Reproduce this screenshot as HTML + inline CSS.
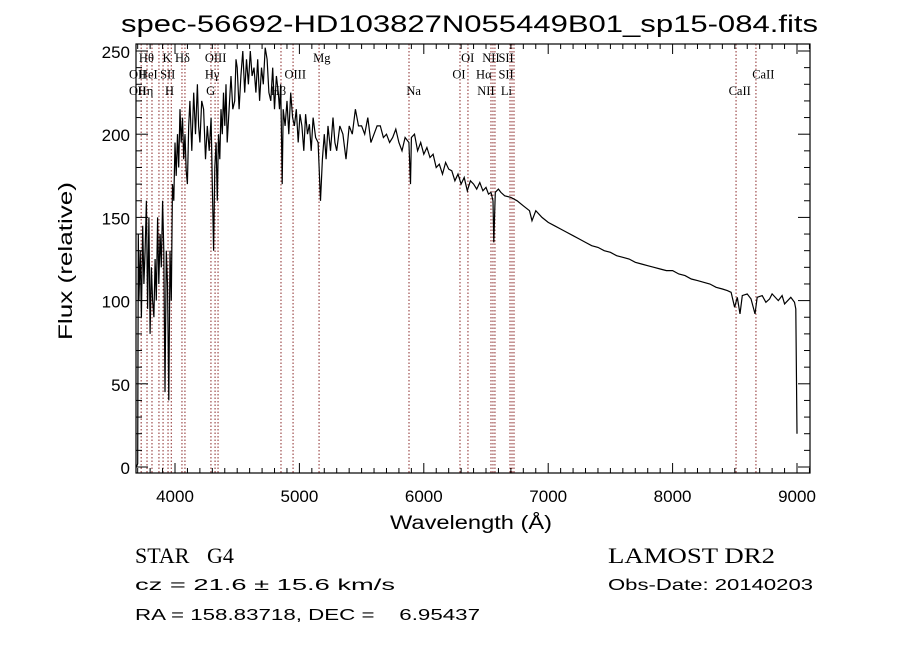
<!DOCTYPE html>
<html><head><meta charset="utf-8"><style>
html,body{margin:0;padding:0;background:#fff;}
svg{display:block;}
.t{font-family:"Liberation Sans",sans-serif;fill:#000;}
.s{font-family:"Liberation Serif",serif;fill:#000;font-size:12.5px;}
</style></head><body>
<svg id="chart" width="900" height="649" viewBox="0 0 900 649" xmlns="http://www.w3.org/2000/svg">
<text class="t" x="121" y="32" font-size="24" textLength="697" lengthAdjust="spacingAndGlyphs">spec-56692-HD103827N055449B01_sp15-084.fits</text>
<g id="lines"></g>
<g id="ticks"></g>
<path id="spec" fill="none" stroke="#000" stroke-width="1.2"/>
<rect x="136" y="44" width="674" height="429" fill="none" stroke="#000" stroke-width="1.2"/>
<text class="t" x="390" y="529" font-size="19" textLength="162" lengthAdjust="spacingAndGlyphs">Wavelength (Å)</text>
<text class="t" transform="translate(72,340) rotate(-90)" font-size="19" textLength="158" lengthAdjust="spacingAndGlyphs">Flux (relative)</text>
<text class="s" x="135" y="563" style="font-size:22px">STAR</text>
<text class="s" x="207" y="563" style="font-size:22px">G4</text>
<text class="s" x="608" y="563" style="font-size:22px" textLength="167" lengthAdjust="spacingAndGlyphs">LAMOST DR2</text>
<text class="t" x="135" y="590" font-size="16" textLength="260" lengthAdjust="spacingAndGlyphs">cz = 21.6 ± 15.6 km/s</text>
<text class="t" x="608" y="590" font-size="16" textLength="205" lengthAdjust="spacingAndGlyphs">Obs-Date: 20140203</text>
<text class="t" x="135" y="620" font-size="16" textLength="345" lengthAdjust="spacingAndGlyphs" xml:space="preserve">RA = 158.83718, DEC =    6.95437</text>
</svg>
<script>
const spectrum=[
[3690,0],[3700,2],[3705,140],[3710,100],[3720,130],[3730,90],[3740,145],[3750,110],[3760,130],[3770,160],[3780,95],[3790,150],[3800,80],[3810,120],[3820,100],[3830,90],[3840,125],[3850,100],[3860,150],[3870,110],[3880,140],[3890,120],[3900,160],[3910,130],[3920,45],[3930,130],[3940,110],[3950,40],[3960,130],[3970,100],[3980,170],[3990,160],
[4000,195],[4010,175],[4020,200],[4030,180],[4040,215],[4050,195],[4060,210],[4070,185],[4080,200],[4090,178],[4100,170],[4110,205],[4120,220],[4135,190],[4150,225],[4165,200],[4180,230],[4190,205],[4200,195],[4215,220],[4230,215],[4245,185],[4260,205],[4275,190],[4290,210],[4300,170],[4310,130],[4320,180],[4330,195],[4340,160],[4350,200],[4360,185],[4370,215],[4380,200],[4390,225],[4400,205],[4410,230],[4420,195],[4435,215],[4450,235],[4465,215],[4480,220],[4490,245],[4500,240],[4515,215],[4530,235],[4545,250],[4560,225],[4575,245],[4590,230],[4605,250],[4620,235],[4635,240],[4650,225],[4665,245],[4680,220],[4695,240],[4710,230],[4725,252],[4740,245],[4755,225],[4770,220],[4785,240],[4800,215],[4815,235],[4830,225],[4840,215],[4850,230],[4862,170],[4870,215],[4885,205],[4900,220],[4915,200],[4930,225],[4945,210],[4960,205],[4975,215],[4990,195],
[5005,212],[5020,205],[5035,190],[5050,212],[5065,200],[5080,206],[5095,190],[5110,210],[5130,198],[5150,195],[5170,160],[5185,185],[5200,200],[5215,185],[5230,205],[5250,190],[5270,210],[5285,195],[5300,190],[5325,205],[5350,200],[5375,185],[5400,205],[5425,200],[5450,215],[5475,205],[5500,205],[5525,200],[5550,210],[5575,195],[5600,200],[5625,205],[5650,205],[5675,198],[5700,200],[5725,195],[5750,198],[5775,203],[5800,195],[5825,190],[5850,198],[5880,195],[5893,170],[5900,198],[5925,200],[5950,190],[5975,195],
[6000,188],[6025,192],[6050,186],[6075,188],[6100,180],[6125,182],[6150,176],[6175,183],[6200,179],[6225,178],[6250,172],[6275,176],[6300,170],[6325,174],[6350,166],[6375,172],[6400,170],[6425,167],[6450,171],[6475,166],[6500,168],[6520,164],[6540,165],[6556,160],[6563,135],[6575,165],[6600,167],[6620,165],[6650,163],[6700,162],[6750,160],[6800,157],[6850,154],[6870,148],[6900,154],[6950,150],
[7000,147],[7050,145],[7100,143],[7150,141],[7200,139],[7250,137],[7300,135],[7350,133],[7400,132],[7450,130],[7500,129],[7550,127],[7600,126],[7650,125],[7700,123],[7750,122],[7800,121],[7850,120],[7900,119],[7950,118],[8000,118],[8050,116],[8100,115],[8150,113],[8200,112],[8250,111],[8300,110],[8350,108],[8400,107],[8440,106],[8470,105],[8498,96],[8520,102],[8542,92],[8560,103],[8600,104],[8630,101],[8662,92],[8680,102],[8720,103],[8750,99],[8780,101],[8800,104],[8850,100],[8880,103],[8900,98],[8950,102],[8980,99],[8990,95],[9000,20]];
const lineWave=[3728,3775,3815,3871,3904,3944,3970,4056,4080,4289,4322,4346,4852,4949,5158,5881,6291,6355,6540,6556,6572,6693,6709,6725,8510,8670];
const labelText=["Hθ","K","Hδ","OIII","Mg","OI","NII","SII","OII","HeI","SII","Hγ","OIII","OI","Hα","SII","CaII","OII","Hη","H","G","Hβ","Na","NII","Li","CaII"];
const labelWave=[3710,3900,4000,4240,5110,6300,6470,6600,3630,3710,3880,4240,4880,6230,6420,6600,8640,3630,3700,3920,4250,4770,5860,6430,6620,8450];
const labelRow=[0,0,0,0,0,0,0,0,1,1,1,1,1,1,1,1,1,2,2,2,2,2,2,2,2,2];
const xTicks=[4000,5000,6000,7000,8000,9000];
const yTicks=[0,50,100,150,200,250];
const NS="http://www.w3.org/2000/svg";
const X=w=>175+(w-4000)*0.1244;
const Y=f=>467-f*1.664;
let d="";
spectrum.forEach((p,i)=>{d+=(i?"L":"M")+X(p[0]).toFixed(1)+","+Math.max(44,Y(p[1])).toFixed(1);});
document.getElementById('spec').setAttribute('d',d);
const lg=document.getElementById('lines');
lineWave.forEach(w=>{const l=document.createElementNS(NS,'line');


l.setAttribute('x1',X(w));l.setAttribute('x2',X(w));l.setAttribute('y1',44);l.setAttribute('y2',473);
l.setAttribute('stroke','#8b2a2a');l.setAttribute('stroke-width','1');l.setAttribute('stroke-dasharray','1.5,2');lg.appendChild(l);});
labelText.forEach((t,i)=>{const e=document.createElementNS(NS,'text');


e.setAttribute('class','s');e.setAttribute('x',X(labelWave[i]));e.setAttribute('y',62+labelRow[i]*16.5);e.textContent=t;lg.appendChild(e);});
const tg=document.getElementById('ticks');
function ln(x1,y1,x2,y2){const l=document.createElementNS(NS,'line');l.setAttribute('x1',x1);l.setAttribute('y1',y1);l.setAttribute('x2',x2);l.setAttribute('y2',y2);l.setAttribute('stroke','#000');l.setAttribute('stroke-width','1');tg.appendChild(l);}
for(let w=3700;w<=9100;w+=100){const x=X(w),m=w%1000===0?10:5;ln(x,473,x,473-m);ln(x,44,x,44+m);}
for(let f=0;f<=250;f+=10){const y=Y(f),m=f%50===0?12:6;ln(136,y,136+m,y);ln(810,y,810-m,y);}
xTicks.forEach(w=>{const e=document.createElementNS(NS,'text');


e.setAttribute('class','t');e.setAttribute('x',X(w));e.setAttribute('y',502);e.setAttribute('font-size','17');e.setAttribute('text-anchor','middle');e.textContent=w;tg.appendChild(e);});
yTicks.forEach(f=>{const e=document.createElementNS(NS,'text');


e.setAttribute('class','t');e.setAttribute('x',130);e.setAttribute('y',Y(f)+7);e.setAttribute('font-size','17');e.setAttribute('text-anchor','end');e.textContent=f;tg.appendChild(e);});
</script>
</body></html>
